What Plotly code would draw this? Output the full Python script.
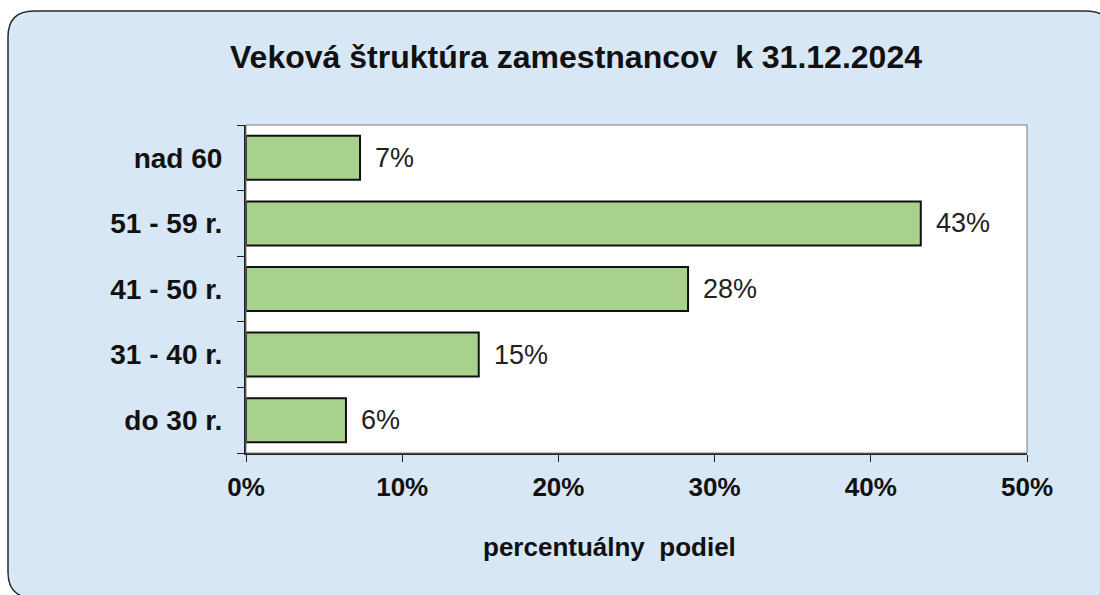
import plotly.graph_objects as go

categories = ["do 30 r.", "31 - 40 r.", "41 - 50 r.", "51 - 59 r.", "nad 60"]
shares = [6.4, 14.9, 28.3, 43.2, 7.3]
labels = ["6%", "15%", "28%", "43%", "7%"]
x_ticks = [0, 10, 20, 30, 40, 50]
x_ticklabels = ["0%", "10%", "20%", "30%", "40%", "50%"]

font_family = "Liberation Sans, Arial, sans-serif"
W, H = 1100, 595
ML, MR, MT, MB = 246, 73, 125, 142

fig = go.Figure()
fig.add_trace(go.Bar(
    x=shares, y=categories, orientation="h",
    marker=dict(color="#a9d18e", line=dict(color="#111111", width=2)),
    hoverinfo="skip",
))

for v, c, t in zip(shares, categories, labels):
    fig.add_annotation(x=v, y=c, text=t, showarrow=False, xanchor="left",
                       xshift=13, font=dict(size=27, color="#222222", family=font_family))

# rounded outer frame (pixel coords converted to paper coords)
pw = W - ML - MR
ph = H - MT - MB
def fx(p):
    return (p - ML) / pw
def fy(p):
    return (H - MB - p) / ph
r = 26
x0, y0, x1, y1 = 8, 11, 1112, 598
path_paper = (f"M {fx(x0+r)} {fy(y0)} L {fx(x1-r)} {fy(y0)} Q {fx(x1)} {fy(y0)} {fx(x1)} {fy(y0+r)} "
              f"L {fx(x1)} {fy(y1-r)} Q {fx(x1)} {fy(y1)} {fx(x1-r)} {fy(y1)} L {fx(x0+r)} {fy(y1)} "
              f"Q {fx(x0)} {fy(y1)} {fx(x0)} {fy(y1-r)} L {fx(x0)} {fy(y0+r)} Q {fx(x0)} {fy(y0)} {fx(x0+r)} {fy(y0)} Z")
fig.add_shape(type="path", xref="paper", yref="paper", path=path_paper,
              fillcolor="#d7e7f5", line=dict(color="#2a2a2a", width=1.5), layer="below")
# white plot area
fig.add_shape(type="rect", xref="paper", yref="paper", x0=0, y0=0, x1=1, y1=1,
              fillcolor="#ffffff", line=dict(width=0), layer="below")
# plot area border
fig.add_shape(type="rect", xref="paper", yref="paper", x0=0, y0=0, x1=1, y1=1,
              line=dict(color="#7a7a7a", width=1), layer="above")

# axis title (positioned slightly left of plot center as in the reference)
fig.add_annotation(xref="paper", yref="paper", x=fx(609), y=fy(547),
                   xanchor="center", yanchor="middle", showarrow=False,
                   text="<b>percentuálny  podiel</b>",
                   font=dict(size=26, color="#111111", family=font_family))

fig.update_layout(
    width=W, height=H,
    margin=dict(l=ML, r=MR, t=MT, b=MB),
    paper_bgcolor="#ffffff",
    plot_bgcolor="rgba(0,0,0,0)",
    bargap=0.33,
    showlegend=False,
    title=dict(text="<b>Veková štruktúra zamestnancov  k 31.12.2024</b>",
               x=576 / W, xanchor="center", y=1 - 57 / H, yanchor="middle",
               font=dict(size=32, color="#111111", family=font_family)),
    xaxis=dict(range=[0, 50], tickvals=x_ticks, ticktext=[f"<b>{t}</b>" for t in x_ticklabels],
               showgrid=False, zeroline=False, showline=True, linecolor="#222222", linewidth=2,
               ticks="outside", ticklen=7, tickcolor="#222222", tickwidth=1,
               tickfont=dict(size=26, color="#111111", family=font_family),
               ticklabelstandoff=3,
               fixedrange=True),
    yaxis=dict(tickvals=categories, ticktext=[f"<b>{c}</b>" for c in categories],
               showgrid=False, zeroline=False, showline=True, linecolor="#222222", linewidth=2,
               ticks="outside", ticklen=7, tickcolor="#222222", tickson="boundaries",
               tickfont=dict(size=28, color="#111111", family=font_family),
               ticklabelstandoff=16, fixedrange=True),
    font=dict(family=font_family),
)

fig.write_html("out.html", config={"displayModeBar": False},
               post_script="document.body.style.margin='0';document.body.style.overflow='hidden';")
